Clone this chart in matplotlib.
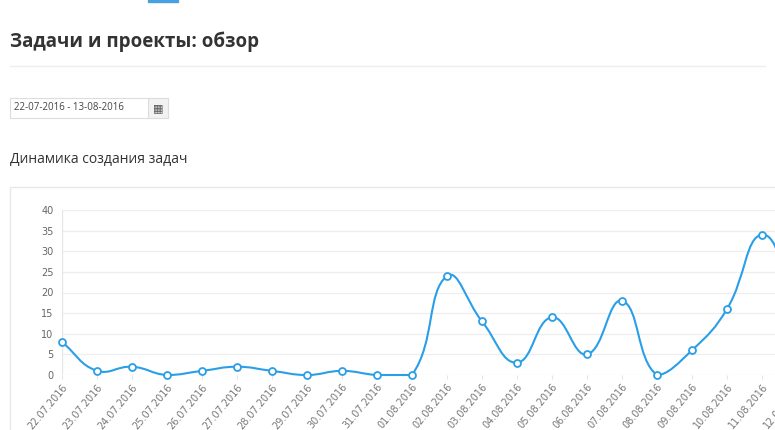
import matplotlib
matplotlib.use("Agg")
import matplotlib.pyplot as plt
from matplotlib.path import Path
from matplotlib.patches import PathPatch, Rectangle
import numpy as np

dates = ["22.07.2016","23.07.2016","24.07.2016","25.07.2016","26.07.2016","27.07.2016",
         "28.07.2016","29.07.2016","30.07.2016","31.07.2016","01.08.2016","02.08.2016",
         "03.08.2016","04.08.2016","05.08.2016","06.08.2016","07.08.2016","08.08.2016",
         "09.08.2016","10.08.2016","11.08.2016","12.08.2016"]
tasks = [8,1,2,0,1,2,1,0,1,0,0,24,13,3,14,5,18,0,6,16,34,18]
yticks = [0,5,10,15,20,25,30,35,40]

W, H = 775, 430
fig = plt.figure(figsize=(W/100, H/100), dpi=100)
fig.patch.set_facecolor("white")

def fx(px): return px / W
def fy(py): return 1 - py / H

blue = "#2a9fe8"
fig.add_artist(Rectangle((fx(148), fy(2)), 30/W, 2/H, color="#4a9fe0", transform=fig.transFigure))
fig.text(fx(10), fy(42), "Задачи и проекты: обзор", fontsize=13.5, fontweight="bold",
         color="#333333", va="center", family="Open Sans")
fig.add_artist(plt.Line2D([fx(10), fx(765)], [fy(66), fy(66)], color="#eeeeee", lw=1, transform=fig.transFigure))
fig.add_artist(Rectangle((fx(10), fy(118)), 158/W, 20/H, fill=False, ec="#dddddd", lw=0.8, transform=fig.transFigure))
fig.add_artist(Rectangle((fx(148), fy(118)), 20/W, 20/H, fc="#f2f2f2", ec="#dddddd", lw=0.8, transform=fig.transFigure))
fig.text(fx(158), fy(108), "▦", fontsize=8, color="#555555", ha="center", va="center", family="DejaVu Sans")
fig.text(fx(14), fy(108), "22-07-2016 - 13-08-2016", fontsize=7, color="#444444", va="center", family="Open Sans")
fig.text(fx(10), fy(160), "Динамика создания задач", fontsize=10, color="#333333", va="center", family="Open Sans")
fig.add_artist(Rectangle((fx(10), fy(440)), 800/W, 253/H, fill=False, ec="#e8e8e8", lw=1, transform=fig.transFigure))

x0, xstep = 62, 35
ax = fig.add_axes([fx(x0), fy(375), (xstep*(len(dates)-1))/W, 165/H])
ax.set_xlim(0, len(dates)-1)
ax.set_ylim(0, 40)
for s in ax.spines.values():
    s.set_visible(False)
ax.set_yticks(yticks)
ax.set_xticks(range(len(dates)))
ax.set_xticklabels(dates, rotation=50, ha="right", rotation_mode="anchor", fontsize=7, color="#777777")
ax.tick_params(axis="y", labelsize=7, colors="#666666", length=0, pad=6)
ax.tick_params(axis="x", length=3, color="#e6e6e6", pad=2)
ax.grid(axis="y", color="#eeeeee", lw=0.9)
ax.grid(axis="x", visible=False)
ax.axvline(0, color="#e6e6e6", lw=0.9)
ax.set_axisbelow(True)

# Chart.js-like bezier smoothing, computed in pixel space
sx, sy = xstep, 165/40
P = np.array([[i*sx, v*sy] for i, v in enumerate(tasks)], float)
t = 0.45
n = len(P)
cp_prev = P.copy(); cp_next = P.copy()
for i in range(n):
    p0 = P[max(i-1, 0)]; p1 = P[i]; p2 = P[min(i+1, n-1)]
    d01 = np.linalg.norm(p1-p0); d12 = np.linalg.norm(p2-p1)
    tot = d01 + d12
    s01 = d01/tot if tot else 0; s12 = d12/tot if tot else 0
    cp_prev[i] = p1 - t*s01*(p2-p0)
    cp_next[i] = p1 + t*s12*(p2-p0)
cp_prev[:, 1] = np.clip(cp_prev[:, 1], 0, 40*sy)
cp_next[:, 1] = np.clip(cp_next[:, 1], 0, 40*sy)
verts = [P[0]]; codes = [Path.MOVETO]
for i in range(n-1):
    verts += [cp_next[i], cp_prev[i+1], P[i+1]]
    codes += [Path.CURVE4]*3
verts = np.array(verts) / np.array([sx, sy])
ax.add_patch(PathPatch(Path(verts, codes), fill=False, ec=blue, lw=1.5, clip_on=False))
ax.plot(range(n), tasks, "o", ms=5, mfc="white", mec=blue, mew=1.3, clip_on=False)

fig.savefig("out.png", dpi=100)
